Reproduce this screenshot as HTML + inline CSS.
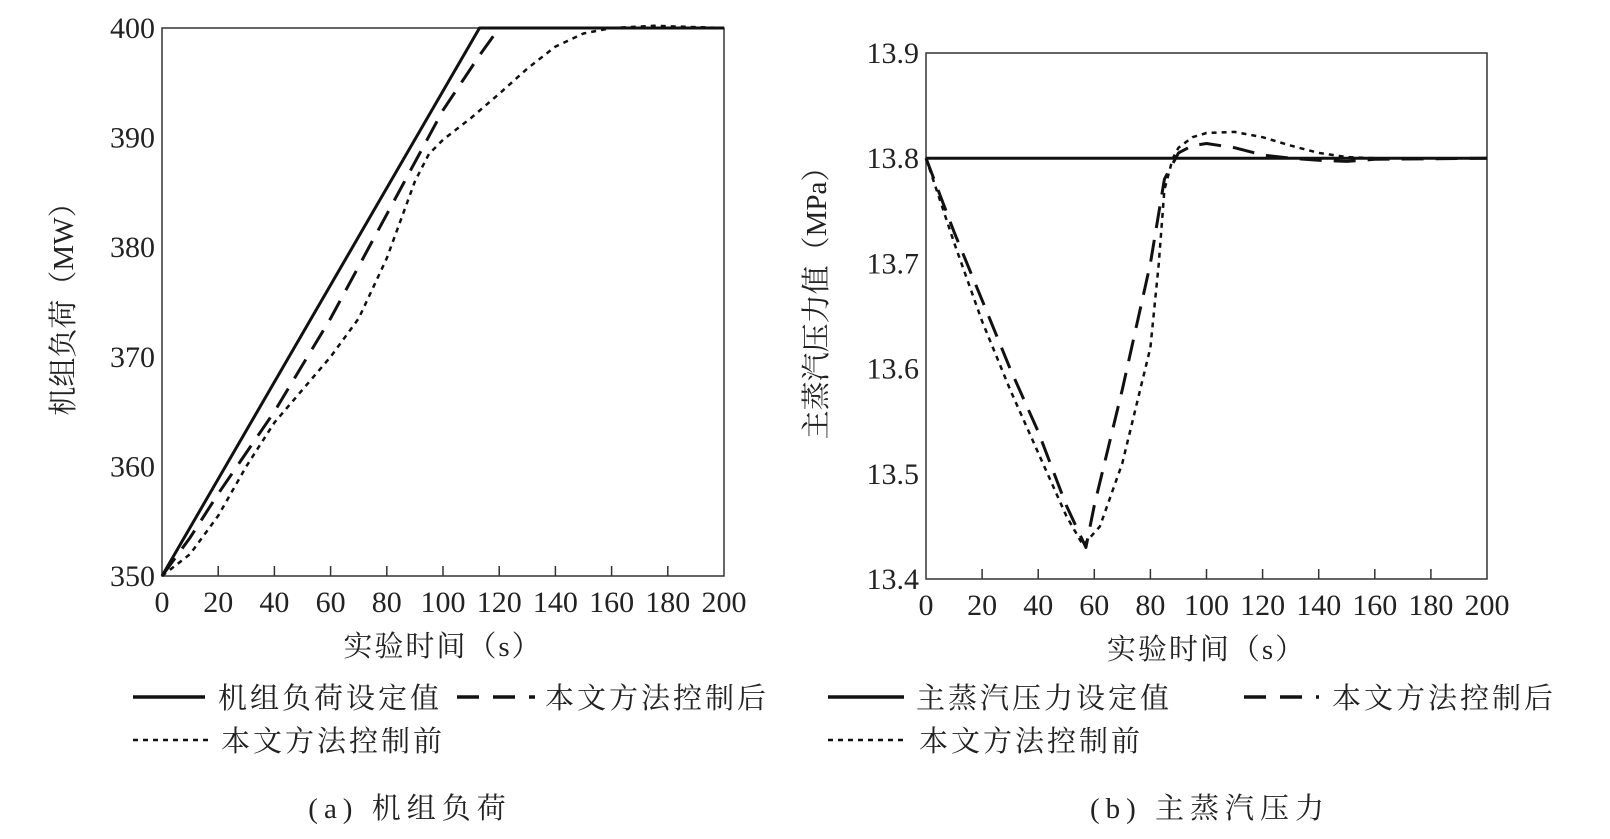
<!DOCTYPE html>
<html><head><meta charset="utf-8">
<style>
body{margin:0;background:#fff;}
svg{display:block;}
text{fill:#222;}
.tk{font-family:"Liberation Serif",serif;font-size:30px;}
.cj{font-family:"Liberation Serif","Noto Serif CJK SC","Noto Sans CJK SC",serif;font-size:29px;}
</style></head>
<body>
<svg id="chart" width="1610" height="839" viewBox="0 0 1610 839" xmlns="http://www.w3.org/2000/svg">
<g id="pa"></g>
<g id="pb"></g>
<g>
 <line x1="133" y1="697" x2="205" y2="697" stroke="#111" stroke-width="3.5"/>
 <text class="cj" x="218" y="708" letter-spacing="3">机组负荷设定值</text>
 <line x1="457" y1="697" x2="535" y2="697" stroke="#111" stroke-width="3.5" stroke-dasharray="22 14"/>
 <text class="cj" x="545" y="708" letter-spacing="3">本文方法控制后</text>
 <line x1="133" y1="740" x2="208" y2="740" stroke="#111" stroke-width="2.5" stroke-dasharray="5 5"/>
 <text class="cj" x="221" y="751" letter-spacing="3">本文方法控制前</text>
</g>
<g>
 <line x1="828" y1="697" x2="904" y2="697" stroke="#111" stroke-width="3.5"/>
 <text class="cj" x="916" y="708" letter-spacing="3">主蒸汽压力设定值</text>
 <line x1="1244" y1="697" x2="1319" y2="697" stroke="#111" stroke-width="3.5" stroke-dasharray="22 14"/>
 <text class="cj" x="1332" y="708" letter-spacing="3">本文方法控制后</text>
 <line x1="828" y1="740" x2="904" y2="740" stroke="#111" stroke-width="2.5" stroke-dasharray="5 5"/>
 <text class="cj" x="919" y="751" letter-spacing="3">本文方法控制前</text>
</g>
<text class="cj" x="410" y="818" text-anchor="middle" letter-spacing="6">(a) 机组负荷</text>
<text class="cj" x="1210" y="818" text-anchor="middle" letter-spacing="6">(b) 主蒸汽压力</text>
</svg>
<script>
const NS="http://www.w3.org/2000/svg";
const xTicks=[0,20,40,60,80,100,120,140,160,180,200];
const aYTicks=[350,360,370,380,390,400];
const bYTicks=[13.4,13.5,13.6,13.7,13.8,13.9];
const bYLabels=["13.4","13.5","13.6","13.7","13.8","13.9"];
const aSetT=[0,113,200];
const aSetV=[350,400,400];
const aAfterT=[0,10,20,40,60,80,100,113,120,200];
const aAfterV=[350,353.5,357.5,365,373.5,383,392.5,397.5,400,400];
const aBeforeT=[0,10,20,30,40,50,60,70,80,90,95,100,110,120,130,140,150,160,175,200];
const aBeforeV=[350,352,355.5,360,364,367,370,373.5,379,386,388.5,389.8,391.8,394,396.3,398.3,399.5,400,400.2,400];
const bSetT=[0,200];
const bSetV=[13.8,13.8];
const bAfterT=[0,10,20,30,40,50,57,60,70,80,85,90,95,100,110,120,130,140,150,160,200];
const bAfterV=[13.8,13.73,13.665,13.6,13.54,13.47,13.43,13.47,13.58,13.7,13.78,13.805,13.812,13.814,13.81,13.803,13.8,13.798,13.797,13.799,13.8];
const bBeforeT=[0,10,20,30,40,50,56,62,70,80,83,85,88,90,95,100,110,120,130,140,150,160,200];
const bBeforeV=[13.8,13.72,13.645,13.58,13.52,13.46,13.432,13.45,13.51,13.62,13.7,13.77,13.8,13.81,13.82,13.824,13.825,13.82,13.812,13.805,13.801,13.8,13.8];

function mk(tag,at,parent){const e=document.createElementNS(NS,tag);for(const k in at)e.setAttribute(k,at[k]);parent.appendChild(e);return e;}

function panel(g,L,R,T,B,ymin,ymax,yt,ylab,ytitle,ytx,yty,series){
  const sx=t=>L+(t-0)/(200-0)*(R-L);
  const sy=v=>B-(v-ymin)/(ymax-ymin)*(B-T);
  const fr=mk('rect',{x:L,y:T,width:R-L,height:B-T,fill:'none',stroke:'#333','stroke-width':1.5},g);
  
  
  xTicks.forEach(t=>{
    const x=sx(t);
    if(t>0&&t<200){const l=mk('line',{x1:x,y1:B,x2:x,y2:B-10,stroke:'#333','stroke-width':1.5},g);
      
      }
    const tx=mk('text',{x:x,y:B+36,'text-anchor':'middle',class:'tk'},g);tx.textContent=t;
    
    
  });
  yt.forEach((v,i)=>{
    const tx=mk('text',{x:L-7,y:sy(v)+10,'text-anchor':'end',class:'tk'},g);tx.textContent=ylab[i];
    
    
  });
  const xt=mk('text',{x:(L+R)/2,y:B+80,'text-anchor':'middle',class:'cj','letter-spacing':2},g);xt.textContent='实验时间（s）';
  
  
  const yT=mk('text',{x:0,y:0,'text-anchor':'middle',class:'cj',transform:`translate(${ytx},${yty}) rotate(-90)`},g);yT.textContent=ytitle;
  
  
  series.forEach(s=>{
    const d=s.t.map((t,i)=>(i?'L':'M')+sx(t).toFixed(1)+' '+sy(s.v[i]).toFixed(1)).join(' ');
    const p=mk('path',{d:d,fill:'none',stroke:'#111','stroke-width':s.w,'stroke-dasharray':s.da,'stroke-linejoin':'round'},g);
    
    
  });
}
panel(document.getElementById('pa'),162,724,28,576,350,400,aYTicks,aYTicks.map(String),'机组负荷（MW）',73,302,[
  {t:aBeforeT,v:aBeforeV,w:2.5,da:'5 5',name:'line-before-control'},
  {t:aAfterT,v:aAfterV,w:3,da:'22 12',name:'line-after-control'},
  {t:aSetT,v:aSetV,w:3,da:'none',name:'line-setpoint'}]);
panel(document.getElementById('pb'),926,1487,53,579,13.4,13.9,bYTicks,bYLabels,'主蒸汽压力值（MPa）',826,296,[
  {t:bBeforeT,v:bBeforeV,w:2.5,da:'5 5',name:'line-before-control'},
  {t:bAfterT,v:bAfterV,w:3,da:'22 12',name:'line-after-control'},
  {t:bSetT,v:bSetV,w:3,da:'none',name:'line-setpoint'}]);
</script>
</body></html>
